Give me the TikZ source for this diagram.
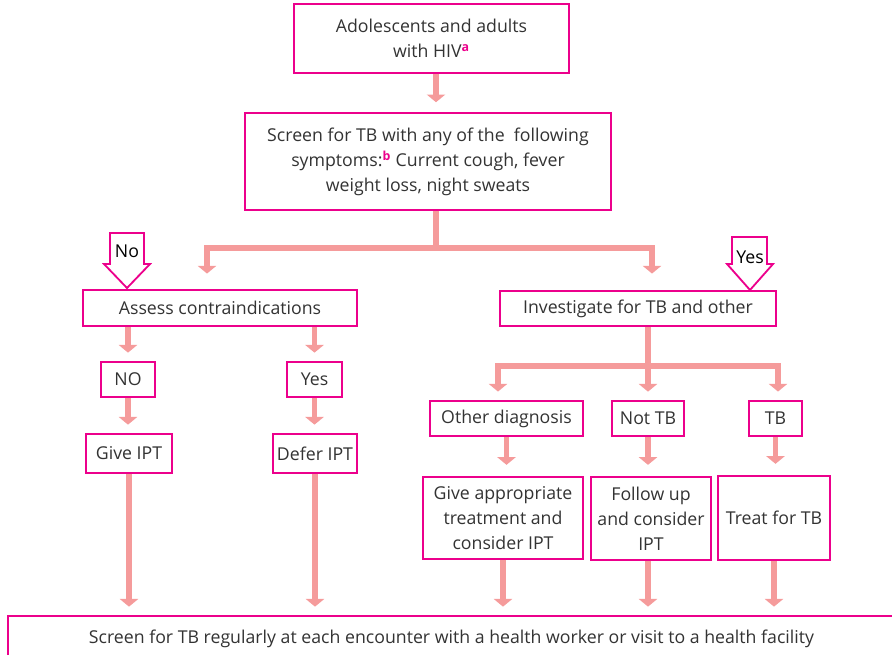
\documentclass[tikz,border=0pt]{standalone}
\usepackage{fontspec}
\setmainfont{Open Sans}
\usetikzlibrary{arrows.meta,positioning}
\definecolor{boxpink}{HTML}{EC008C}
\definecolor{flowpink}{HTML}{F59B9B}
\definecolor{txtgray}{HTML}{333333}
\newcommand{\supmark}[1]{\textsuperscript{\textcolor{boxpink}{\bfseries #1}}}
\begin{document}
\begin{tikzpicture}[x=0.025cm,y=-0.025cm,
  box/.style={draw=boxpink,line width=1.3pt,fill=white,align=center,inner sep=0pt,
    text=txtgray,font=\fontsize{12.6}{17.8}\selectfont},
  flow/.style={draw=flowpink,line width=3.6pt,-{Triangle[width=13pt,length=5.5pt]},shorten >=6pt},
  flowline/.style={draw=flowpink,line width=3.6pt},
  yesno/.style={draw=boxpink,line width=1.3pt,fill=white,line join=miter}]
\useasboundingbox (0,0) rectangle (892,654);
% boxes
\node[box,minimum width=6.875cm,minimum height=1.725cm] (hiv) at (431.5,38.5) {Adolescents and adults\\with HIV\supmark{a}};
\node[box,minimum width=9.15cm,minimum height=2.425cm] (screen) at (428,161.5) {Screen for TB with any of the\ \ following\\symptoms:\supmark{b} Current cough, fever\\weight loss, night sweats};
\node[box,minimum width=6.85cm,minimum height=0.9cm] (assess) at (220,308) {Assess contraindications};
\node[box,minimum width=6.9cm,minimum height=0.875cm] (invest) at (638,308.5) {Investigate for TB and other};
\node[box,minimum width=1.35cm,minimum height=0.875cm] (nobox) at (128,379.5) {NO};
\node[box,minimum width=1.375cm,minimum height=0.875cm] (yesbox) at (314.5,379.5) {Yes};
\node[box,minimum width=2.15cm,minimum height=0.975cm] (giveipt) at (129,453.5) {Give IPT};
\node[box,minimum width=2.1cm,minimum height=0.975cm] (defeript) at (315,453.5) {Defer IPT};
\node[box,minimum width=3.825cm,minimum height=0.875cm] (otherdx) at (506.5,418.5) {Other diagnosis};
\node[box,minimum width=1.8cm,minimum height=0.875cm] (nottb) at (648,418.5) {Not TB};
\node[box,minimum width=1.325cm,minimum height=0.875cm] (tb) at (775.5,418.5) {TB};
\node[box,minimum width=4.0cm,minimum height=2.05cm] (giveappr) at (503,518) {Give appropriate\\treatment and\\consider IPT};
\node[box,minimum width=3.0cm,minimum height=2.075cm] (followup) at (651,518.5) {Follow up\\and consider\\IPT};
\node[box,minimum width=2.8cm,minimum height=2.1cm] (treat) at (774,518) {Treat for TB};
\node[box,minimum width=22.175cm,minimum height=1.15cm] (regular) at (451.5,639) {Screen for TB regularly at each encounter with a health worker or visit to a health facility};
% junctions
\coordinate (j1) at (436,248);
\coordinate (noend) at (207,282);
\coordinate (yesend) at (652,282);
\coordinate (j2) at (648,366);
\coordinate (odend) at (498,400);
\coordinate (tbend) at (778,400);
% connectors
\draw[flow,shorten >=7pt] (j1 |- hiv.south) -- (j1 |- screen.north);
\draw[flowline] (j1 |- screen.south) -- (j1);
\draw[flow] (j1) -| (noend);
\draw[flow] (j1) -| (yesend);
\draw[flow] (nobox |- assess.south) -- (nobox);
\draw[flow] (yesbox |- assess.south) -- (yesbox);
\draw[flow] (nobox) -- (nobox |- giveipt.north);
\draw[flow] (yesbox) -- (yesbox |- defeript.north);
\draw[flow] (giveipt.south) -- (giveipt |- regular.north);
\draw[flow] (defeript.south) -- (defeript |- regular.north);
\draw[flowline] (j2 |- invest.south) -- (j2);
\draw[flow] (j2) -| (odend);
\draw[flow] (j2) -- (nottb);
\draw[flow] (j2) -| (tbend);
\draw[flow,shorten >=8pt] (otherdx.south) -- (otherdx |- giveappr.north);
\draw[flow,shorten >=8pt] (nottb) -- (nottb |- followup.north);
\draw[flow,shorten >=8pt] (tb) -- (tb |- treat.north);
\draw[flow] (giveappr.south) -- (giveappr |- regular.north);
\draw[flow] (nottb |- followup.south) -- (nottb |- regular.north);
\draw[flow] (treat.south) -- (treat |- regular.north);
% decision arrows
\draw[yesno] (110,233) -- (144,233) -- (144,264) -- (150,264) -- (127,288) -- (104,264) -- (110,264) -- cycle;
\node[font=\fontsize{12.6}{14}\selectfont] (nolbl) at (127,251) {No};
\draw[yesno] (732,237) -- (767,237) -- (767,264) -- (773,264) -- (750,290) -- (727,264) -- (732,264) -- cycle;
\node[font=\fontsize{12.6}{14}\selectfont] (yeslbl) at (750,257) {Yes};
\end{tikzpicture}
\end{document}
